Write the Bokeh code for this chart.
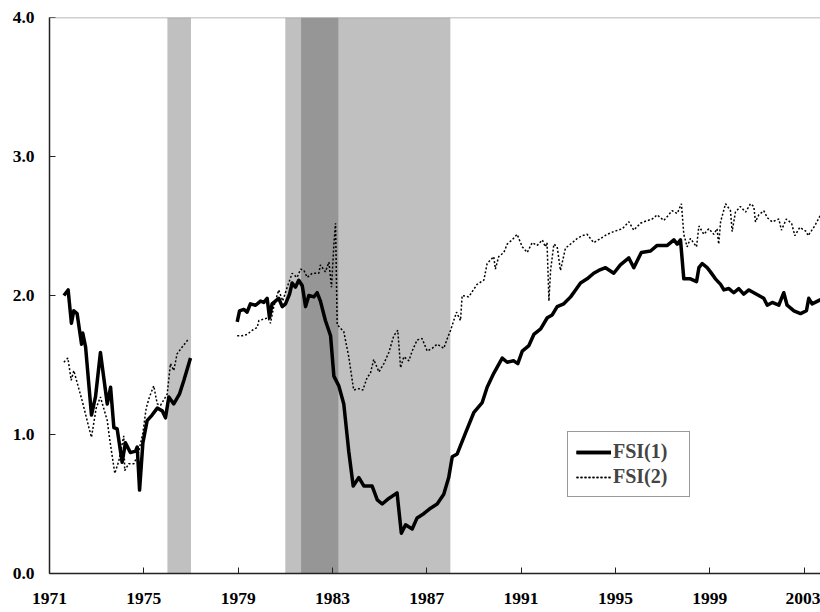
from bokeh.plotting import figure
from bokeh.models import (Range1d, FixedTicker, NumeralTickFormatter, Legend, LegendItem, Span)
from bokeh.embed import file_html
from bokeh.resources import INLINE

# ---------------- data ----------------
year_ticks = [1971, 1975, 1979, 1983, 1987, 1991, 1995, 1999, 2003]
value_ticks = [0.0, 1.0, 2.0, 3.0, 4.0]

light_start = [1976.0, 1981.0]
light_end = [1977.0, 1988.0]
dark_start = [1981.67]
dark_end = [1983.25]

fsi1_years_a = [1971.61, 1971.79, 1971.93, 1972.03, 1972.17, 1972.36, 1972.41, 1972.53, 1972.78, 1972.95,
                1973.16, 1973.30, 1973.45, 1973.59, 1973.73, 1973.87, 1974.08, 1974.22, 1974.43, 1974.65,
                1974.72, 1974.82, 1974.96, 1975.14, 1975.35, 1975.57, 1975.78, 1975.92, 1976.06, 1976.27,
                1976.51, 1976.70, 1976.98]
fsi1_values_a = [2.00, 2.04, 1.80, 1.89, 1.87, 1.65, 1.73, 1.63, 1.14, 1.27,
                 1.59, 1.41, 1.22, 1.34, 1.05, 1.04, 0.80, 0.94, 0.87, 0.88,
                 0.91, 0.60, 0.94, 1.10, 1.14, 1.19, 1.17, 1.12, 1.27, 1.22,
                 1.29, 1.39, 1.55]

fsi1_years_b = [1978.96, 1979.06, 1979.24, 1979.38, 1979.52, 1979.74, 1979.95, 1980.09, 1980.23, 1980.33,
                1980.44, 1980.58, 1980.72, 1980.87, 1981.01, 1981.18, 1981.29, 1981.43, 1981.57, 1981.72,
                1981.86, 1982.00, 1982.21, 1982.35, 1982.49, 1982.70, 1982.92, 1983.06, 1983.27, 1983.48,
                1983.69, 1983.88, 1984.12, 1984.33, 1984.68, 1984.90, 1985.11, 1985.39, 1985.74, 1985.92,
                1986.10, 1986.38, 1986.59, 1986.87, 1987.16, 1987.44, 1987.72, 1987.93, 1988.08, 1988.29,
                1988.64, 1989.00, 1989.35, 1989.56, 1989.84, 1990.20, 1990.41, 1990.69, 1990.86, 1991.05,
                1991.33, 1991.54, 1991.83, 1992.11, 1992.32, 1992.53, 1992.81, 1993.10, 1993.31, 1993.52,
                1993.80, 1994.08, 1994.29, 1994.58, 1994.93, 1995.21, 1995.57, 1995.78, 1996.10, 1996.49,
                1996.77, 1997.20, 1997.48, 1997.62, 1997.76, 1997.90, 1998.18, 1998.44, 1998.54, 1998.68,
                1998.89, 1999.03, 1999.24, 1999.46, 1999.60, 1999.81, 2000.02, 2000.23, 2000.44, 2000.66,
                2000.87, 2001.08, 2001.29, 2001.44, 2001.65, 2001.93, 2002.14, 2002.28, 2002.57, 2002.85,
                2003.10, 2003.20, 2003.34, 2003.70]
fsi1_values_b = [1.81, 1.89, 1.90, 1.88, 1.94, 1.93, 1.96, 1.95, 1.98, 1.84,
                 1.94, 1.96, 1.98, 1.92, 1.94, 2.01, 2.09, 2.06, 2.11, 2.07,
                 1.92, 2.00, 1.99, 2.02, 1.96, 1.82, 1.71, 1.42, 1.35, 1.22,
                 0.88, 0.63, 0.69, 0.63, 0.63, 0.53, 0.50, 0.54, 0.58, 0.29,
                 0.35, 0.32, 0.40, 0.43, 0.47, 0.50, 0.57, 0.69, 0.84, 0.86,
                 1.01, 1.16, 1.23, 1.34, 1.44, 1.55, 1.52, 1.53, 1.51, 1.60,
                 1.64, 1.72, 1.76, 1.84, 1.86, 1.92, 1.94, 1.99, 2.04, 2.09,
                 2.12, 2.16, 2.18, 2.20, 2.16, 2.22, 2.27, 2.20, 2.31, 2.32,
                 2.36, 2.36, 2.40, 2.37, 2.40, 2.12, 2.12, 2.10, 2.20, 2.23,
                 2.20, 2.17, 2.12, 2.08, 2.04, 2.05, 2.02, 2.05, 2.01, 2.04,
                 2.02, 2.00, 1.98, 1.93, 1.95, 1.93, 2.02, 1.93, 1.89, 1.87,
                 1.89, 1.98, 1.94, 1.97]

fsi2_years_a = [1971.61, 1971.78, 1971.92, 1972.03, 1972.39, 1972.67, 1972.78, 1972.98, 1973.16, 1973.45,
                1973.54, 1973.77, 1973.94, 1974.15, 1974.19, 1974.36, 1974.58, 1974.76, 1974.96, 1975.10,
                1975.24, 1975.42, 1975.57, 1975.71, 1975.99, 1976.13, 1976.27, 1976.41, 1976.63, 1976.91]
fsi2_values_a = [1.52, 1.55, 1.39, 1.46, 1.24, 1.05, 0.98, 1.19, 1.27, 1.10,
                 0.98, 0.72, 0.81, 0.99, 0.74, 0.79, 0.79, 0.86, 1.01, 1.19,
                 1.27, 1.35, 1.22, 1.21, 1.29, 1.51, 1.46, 1.58, 1.63, 1.69]

fsi2_years_b = [1978.96, 1979.17, 1979.38, 1979.60, 1979.81, 1979.88, 1980.09, 1980.27, 1980.37, 1980.51,
                1980.72, 1980.89, 1981.08, 1981.29, 1981.50, 1981.65, 1981.79, 1981.93, 1982.14, 1982.42,
                1982.49, 1982.70, 1982.85, 1982.96, 1983.06, 1983.13, 1983.20, 1983.48, 1983.69, 1983.90,
                1984.12, 1984.29, 1984.47, 1984.61, 1984.75, 1984.97, 1985.18, 1985.39, 1985.60, 1985.77,
                1985.89, 1986.03, 1986.24, 1986.38, 1986.59, 1986.80, 1987.02, 1987.23, 1987.44, 1987.72,
                1987.87, 1988.01, 1988.26, 1988.43, 1988.50, 1988.78, 1989.13, 1989.42, 1989.56, 1989.84,
                1989.91, 1990.05, 1990.27, 1990.41, 1990.62, 1990.83, 1991.05, 1991.26, 1991.47, 1991.68,
                1991.90, 1992.03, 1992.10, 1992.18, 1992.25, 1992.39, 1992.53, 1992.67, 1992.88, 1993.17,
                1993.38, 1993.59, 1993.80, 1994.08, 1994.37, 1994.65, 1994.93, 1995.29, 1995.57, 1995.78,
                1996.06, 1996.20, 1996.56, 1996.77, 1997.05, 1997.26, 1997.40, 1997.62, 1997.80, 1997.90,
                1998.04, 1998.18, 1998.44, 1998.54, 1998.75, 1998.96, 1999.17, 1999.31, 1999.38, 1999.46,
                1999.67, 1999.88, 1999.95, 2000.09, 2000.30, 2000.52, 2000.73, 2000.87, 2000.94, 2001.08,
                2001.29, 2001.44, 2001.65, 2001.93, 2002.04, 2002.25, 2002.47, 2002.61, 2002.82, 2003.10,
                2003.17, 2003.45, 2003.70]
fsi2_values_b = [1.71, 1.71, 1.72, 1.75, 1.77, 1.82, 1.83, 1.84, 1.80, 1.92,
                 2.04, 1.96, 2.06, 2.16, 2.13, 2.19, 2.18, 2.13, 2.16, 2.16,
                 2.22, 2.17, 2.24, 2.06, 2.37, 2.52, 1.79, 1.74, 1.56, 1.32,
                 1.33, 1.32, 1.41, 1.44, 1.54, 1.45, 1.51, 1.59, 1.71, 1.75,
                 1.48, 1.56, 1.53, 1.60, 1.68, 1.69, 1.60, 1.62, 1.65, 1.62,
                 1.69, 1.75, 1.88, 1.82, 2.00, 1.99, 2.08, 2.11, 2.23, 2.28,
                 2.19, 2.28, 2.31, 2.37, 2.40, 2.44, 2.35, 2.31, 2.38, 2.36,
                 2.40, 2.35, 2.38, 1.96, 2.18, 2.37, 2.35, 2.18, 2.34, 2.38,
                 2.41, 2.43, 2.44, 2.38, 2.41, 2.44, 2.46, 2.48, 2.53, 2.47,
                 2.52, 2.53, 2.55, 2.58, 2.54, 2.58, 2.61, 2.59, 2.66, 2.44,
                 2.35, 2.41, 2.35, 2.50, 2.44, 2.48, 2.44, 2.48, 2.37, 2.53,
                 2.66, 2.61, 2.46, 2.60, 2.64, 2.60, 2.66, 2.64, 2.53, 2.58,
                 2.61, 2.56, 2.53, 2.55, 2.47, 2.55, 2.52, 2.43, 2.49, 2.46,
                 2.43, 2.50, 2.58]

# ---------------- figure ----------------
FONT = "Liberation Serif"
px_per_year = 23.58
frame_w = 771
frame_h = 556
x_end = 1971 + frame_w / px_per_year

p = figure(width=820, height=612, frame_width=frame_w, frame_height=frame_h,
           x_range=Range1d(1971, x_end), y_range=Range1d(0, 4),
           output_backend="svg", toolbar_location=None,
           min_border_left=49, min_border_right=0, min_border_top=17, min_border_bottom=39)
p.background_fill_color = "white"
p.border_fill_color = "white"
p.outline_line_color = None
p.xgrid.visible = False
p.ygrid.visible = False

# shaded periods
p.quad(left=light_start, right=light_end, bottom=0, top=4,
       fill_color="#C0C0C0", line_color=None)
p.quad(left=dark_start, right=dark_end, bottom=0, top=4,
       fill_color="#969696", line_color=None)

# top border
p.add_layout(Span(location=4, dimension="width", line_color="#a0a0a0", line_width=1.5))

# series
r1a = p.line(fsi1_years_a, fsi1_values_a, line_color="black", line_width=3.5, line_join="round")
r1b = p.line(fsi1_years_b, fsi1_values_b, line_color="black", line_width=3.5, line_join="round")
r2a = p.line(fsi2_years_a, fsi2_values_a, line_color="black", line_width=1.5, line_dash="2 2")
r2b = p.line(fsi2_years_b, fsi2_values_b, line_color="black", line_width=1.5, line_dash="2 2")

# axes
xa = p.xaxis[0]
xa.ticker = FixedTicker(ticks=year_ticks)
xa.major_tick_in = 6
xa.major_tick_out = 0
xa.minor_tick_line_color = None
xa.axis_line_color = "#222222"
xa.axis_line_width = 1.5
xa.major_tick_line_color = "#222222"
xa.major_label_text_font = FONT
xa.major_label_text_font_style = "bold"
xa.major_label_text_font_size = "17.5px"
xa.major_label_text_color = "black"
xa.major_label_standoff = 19

ya = p.yaxis[0]
ya.ticker = FixedTicker(ticks=value_ticks)
ya.formatter = NumeralTickFormatter(format="0.0")
ya.major_tick_in = 6
ya.major_tick_out = 0
ya.minor_tick_line_color = None
ya.axis_line_color = "#222222"
ya.axis_line_width = 1.5
ya.major_tick_line_color = "#222222"
ya.major_label_text_font = FONT
ya.major_label_text_font_style = "bold"
ya.major_label_text_font_size = "17.5px"
ya.major_label_text_color = "black"
ya.major_label_standoff = 15

legend = Legend(items=[LegendItem(label="FSI(1)", renderers=[r1a, r1b]),
                       LegendItem(label="FSI(2)", renderers=[r2a, r2b])],
                location=(518, 76), orientation="vertical",
                padding=8, spacing=2, margin=0,
                glyph_width=35, glyph_height=20, label_height=20, label_width=68,
                label_standoff=2,
                label_text_font=FONT, label_text_font_style="bold", label_text_font_size="20px",
                border_line_color="#333333", border_line_width=1,
                background_fill_color="white", background_fill_alpha=1.0)
p.add_layout(legend)

open("out.html", "w").write(file_html(p, INLINE))
